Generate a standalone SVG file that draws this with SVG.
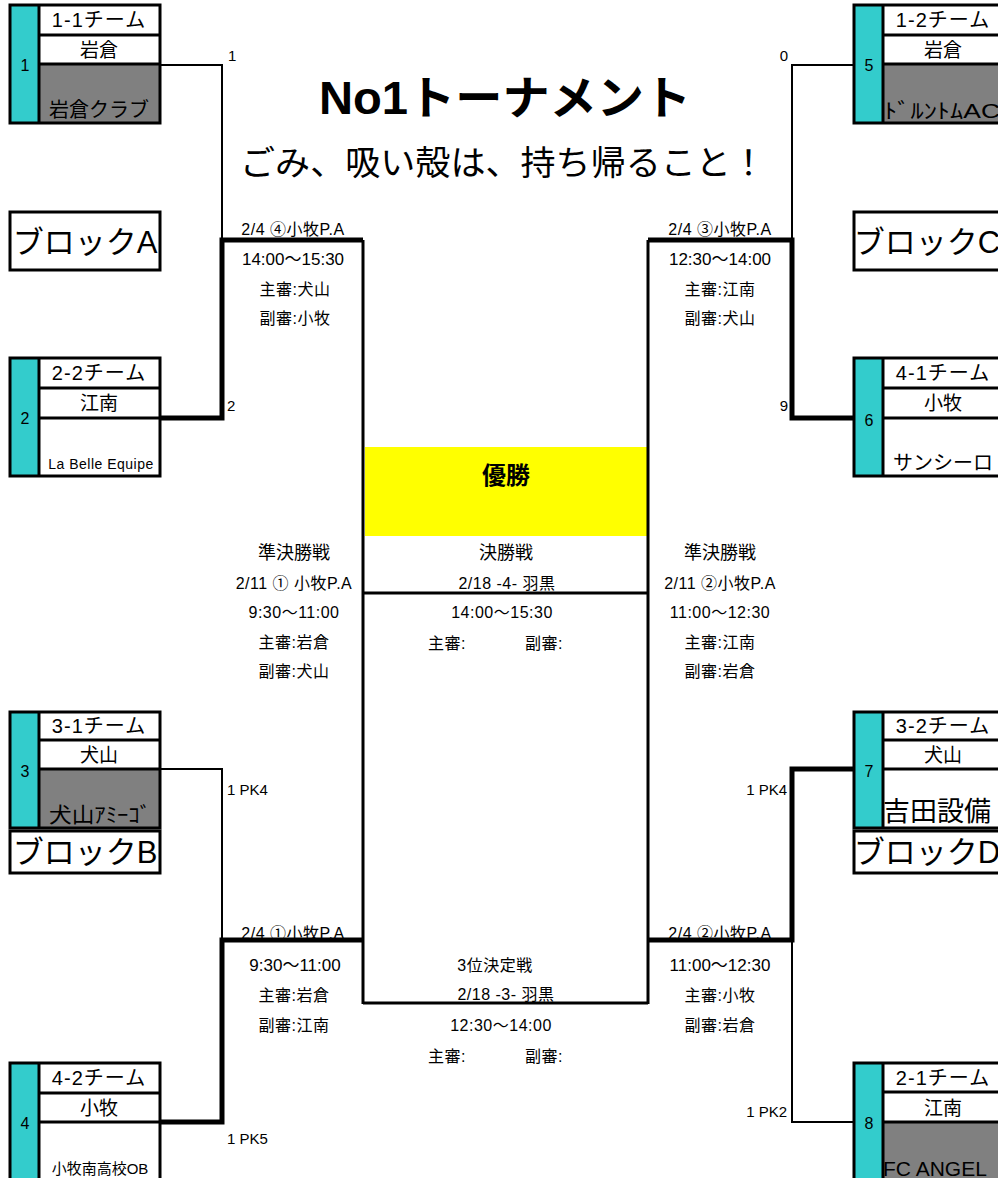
<svg xmlns="http://www.w3.org/2000/svg" width="998" height="1178" viewBox="0 0 998 1178">
<style>
text{font-family:"Liberation Sans","Noto Sans CJK JP",sans-serif;fill:#000;text-anchor:middle;dominant-baseline:central}
.box{fill:none;stroke:#000;stroke-width:3}
.cy{fill:#33cccc}
.gr{fill:#808080}
.ln{stroke:#000;stroke-width:3}
.thin{fill:none;stroke:#000;stroke-width:2}
.thick{fill:none;stroke:#000;stroke-width:5}
.mid{fill:none;stroke:#000;stroke-width:3}
.t1{font-size:20px;letter-spacing:1px}
.t2{font-size:19px}
.num{font-size:16px}
.s{font-size:16px;letter-spacing:0.5px}
.m{font-size:17px}
.h{font-size:18px}
.sc{font-size:15px;text-anchor:start}
.scr{font-size:15px;text-anchor:end}
.blk{font-size:31px}
.st{text-anchor:start}
</style>
<rect width="998" height="1178" fill="#fff"/>

<g id="title">
<text x="505" y="98" font-size="46" font-weight="bold" textLength="372" lengthAdjust="spacingAndGlyphs">No1トーナメント</text>
<text x="503" y="163" font-size="34" textLength="526" lengthAdjust="spacingAndGlyphs">ごみ、吸い殻は、持ち帰ること！</text>
</g>

<g id="team1">
<rect x="10" y="5" width="29" height="118" class="cy"/>
<rect x="39" y="64" width="121" height="59" class="gr"/>
<rect x="10" y="5" width="150" height="118" class="box"/>
<line x1="39" y1="5" x2="39" y2="123" class="ln"/>
<line x1="39" y1="35" x2="160" y2="35" class="ln"/>
<line x1="39" y1="64" x2="160" y2="64" class="ln"/>
<text x="25" y="65" class="num">1</text>
<text x="99" y="20" class="t1">1-1チーム</text>
<text x="99" y="50" class="t2">岩倉</text>
<text x="99" y="110" font-size="20">岩倉クラブ</text>
</g>

<g id="team2">
<rect x="10" y="358" width="29" height="118" class="cy"/>
<rect x="10" y="358" width="150" height="118" class="box"/>
<line x1="39" y1="358" x2="39" y2="476" class="ln"/>
<line x1="39" y1="388" x2="160" y2="388" class="ln"/>
<line x1="39" y1="418" x2="160" y2="418" class="ln"/>
<text x="25" y="418" class="num">2</text>
<text x="99" y="373" class="t1">2-2チーム</text>
<text x="99" y="403" class="t2">江南</text>
<text x="101" y="464" font-size="14" letter-spacing="0.5">La Belle Equipe</text>
</g>

<g id="team3">
<rect x="10" y="712" width="29" height="116" class="cy"/>
<rect x="39" y="769" width="121" height="59" class="gr"/>
<rect x="10" y="712" width="150" height="116" class="box"/>
<line x1="39" y1="712" x2="39" y2="828" class="ln"/>
<line x1="39" y1="740" x2="160" y2="740" class="ln"/>
<line x1="39" y1="769" x2="160" y2="769" class="ln"/>
<text x="25" y="771" class="num">3</text>
<text x="99" y="726" class="t1">3-1チーム</text>
<text x="99" y="755" class="t2">犬山</text>
<text x="100" y="814" font-size="21" textLength="102" lengthAdjust="spacingAndGlyphs">犬山ｱﾐｰｺﾞ</text>
</g>

<g id="team4">
<rect x="10" y="1063" width="29" height="118" class="cy"/>
<rect x="10" y="1063" width="150" height="118" class="box"/>
<line x1="39" y1="1063" x2="39" y2="1181" class="ln"/>
<line x1="39" y1="1093" x2="160" y2="1093" class="ln"/>
<line x1="39" y1="1122" x2="160" y2="1122" class="ln"/>
<text x="25" y="1123" class="num">4</text>
<text x="99" y="1078" class="t1">4-2チーム</text>
<text x="99" y="1108" class="t2">小牧</text>
<text x="100" y="1168" font-size="15">小牧南高校OB</text>
</g>

<g id="team5">
<rect x="854" y="5" width="29" height="118" class="cy"/>
<rect x="883" y="64" width="121" height="59" class="gr"/>
<rect x="854" y="5" width="150" height="118" class="box"/>
<line x1="883" y1="5" x2="883" y2="123" class="ln"/>
<line x1="883" y1="35" x2="1004" y2="35" class="ln"/>
<line x1="883" y1="64" x2="1004" y2="64" class="ln"/>
<text x="869" y="65" class="num">5</text>
<text x="943" y="20" class="t1">1-2チーム</text>
<text x="943" y="50" class="t2">岩倉</text>
<text x="884" y="110" font-size="21" class="st" textLength="116" lengthAdjust="spacingAndGlyphs">ﾄﾞﾙﾝﾄﾑAC</text>
</g>

<g id="team6">
<rect x="854" y="358" width="29" height="118" class="cy"/>
<rect x="854" y="358" width="150" height="118" class="box"/>
<line x1="883" y1="358" x2="883" y2="476" class="ln"/>
<line x1="883" y1="388" x2="1004" y2="388" class="ln"/>
<line x1="883" y1="418" x2="1004" y2="418" class="ln"/>
<text x="869" y="420" class="num">6</text>
<text x="943" y="373" class="t1">4-1チーム</text>
<text x="943" y="403" class="t2">小牧</text>
<text x="893" y="463" font-size="20" class="st">サンシーロ</text>
</g>

<g id="team7">
<rect x="854" y="712" width="29" height="116" class="cy"/>
<rect x="854" y="712" width="150" height="116" class="box"/>
<line x1="883" y1="712" x2="883" y2="828" class="ln"/>
<line x1="883" y1="740" x2="1004" y2="740" class="ln"/>
<line x1="883" y1="769" x2="1004" y2="769" class="ln"/>
<text x="869" y="771" class="num">7</text>
<text x="943" y="726" class="t1">3-2チーム</text>
<text x="943" y="755" class="t2">犬山</text>
<text x="883" y="812" font-size="27" class="st">吉田設備</text>
</g>

<g id="team8">
<rect x="854" y="1063" width="29" height="118" class="cy"/>
<rect x="883" y="1122" width="121" height="59" class="gr"/>
<rect x="854" y="1063" width="150" height="118" class="box"/>
<line x1="883" y1="1063" x2="883" y2="1181" class="ln"/>
<line x1="883" y1="1092" x2="1004" y2="1092" class="ln"/>
<line x1="883" y1="1122" x2="1004" y2="1122" class="ln"/>
<text x="869" y="1123" class="num">8</text>
<text x="943" y="1078" class="t1">2-1チーム</text>
<text x="943" y="1108" class="t2">江南</text>
<text x="883" y="1168" font-size="21" class="st">FC ANGEL</text>
</g>

<g id="blockA">
<rect x="10" y="212" width="150" height="58" class="box"/>
<text x="85" y="242" class="blk">ブロックA</text>
</g>
<g id="blockB">
<rect x="10" y="831" width="150" height="42" class="box"/>
<text x="85" y="852" class="blk">ブロックB</text>
</g>
<g id="blockC">
<rect x="854" y="212" width="150" height="58" class="box"/>
<text x="927" y="242" class="blk">ブロックC</text>
</g>
<g id="blockD">
<rect x="854" y="831" width="150" height="42" class="box"/>
<text x="927" y="852" class="blk">ブロックD</text>
</g>

<g id="champion">
<rect x="365" y="447" width="282" height="89" fill="#ffff00"/>
<text x="506" y="475" font-size="24" font-weight="bold">優勝</text>
</g>

<g id="connectors">
<polyline points="160,65 222,65 222,240" class="thin"/>
<polyline points="160,418 222,418 222,240 363,240" class="thick"/>
<polyline points="160,769 222,769 222,940" class="thin"/>
<polyline points="160,1122 222,1122 222,940 363,940" class="thick"/>
<polyline points="853,65 792,65 792,240" class="thin"/>
<polyline points="853,418 792,418 792,240 648,240" class="thick"/>
<polyline points="853,769 792,769 792,940 648,940" class="thick"/>
<polyline points="853,1122 792,1122 792,940" class="thin"/>
<line x1="363" y1="240" x2="363" y2="1004" class="mid"/>
<line x1="648" y1="240" x2="648" y2="1004" class="mid"/>
<line x1="363" y1="593" x2="648" y2="593" class="mid"/>
<line x1="363" y1="1003" x2="648" y2="1003" class="mid"/>
</g>

<g id="scores">
<text x="228" y="55" class="sc">1</text>
<text x="227" y="405" class="sc">2</text>
<text x="788" y="55" class="scr">0</text>
<text x="788" y="405" class="scr">9</text>
<text x="227" y="789" class="sc">1 PK4</text>
<text x="227" y="1138" class="sc">1 PK5</text>
<text x="787" y="789" class="scr">1 PK4</text>
<text x="787" y="1111" class="scr">1 PK2</text>
</g>

<g id="match-top-left">
<text x="293" y="229" class="s">2/4 ④小牧P.A</text>
<text x="293" y="259" class="m">14:00〜15:30</text>
<text x="295" y="289" class="s">主審:犬山</text>
<text x="295" y="318" class="s">副審:小牧</text>
</g>
<g id="match-top-right">
<text x="720" y="229" class="s">2/4 ③小牧P.A</text>
<text x="720" y="259" class="m">12:30〜14:00</text>
<text x="720" y="289" class="s">主審:江南</text>
<text x="720" y="318" class="s">副審:犬山</text>
</g>
<g id="semi-left">
<text x="294" y="553" class="h">準決勝戦</text>
<text x="294" y="583" class="s">2/11 ① 小牧P.A</text>
<text x="294" y="612" class="s">9:30〜11:00</text>
<text x="294" y="642" class="s">主審:岩倉</text>
<text x="294" y="671" class="s">副審:犬山</text>
</g>
<g id="semi-right">
<text x="720" y="553" class="h">準決勝戦</text>
<text x="720" y="583" class="s">2/11 ②小牧P.A</text>
<text x="720" y="612" class="s">11:00〜12:30</text>
<text x="720" y="642" class="s">主審:江南</text>
<text x="720" y="671" class="s">副審:岩倉</text>
</g>
<g id="final">
<text x="506" y="553" class="h">決勝戦</text>
<text x="507" y="583" class="s">2/18 -4- 羽黒</text>
<text x="502" y="612" class="s">14:00〜15:30</text>
<text x="447" y="643" class="s">主審:</text>
<text x="544" y="643" class="s">副審:</text>
</g>
<g id="match-bottom-left">
<text x="293" y="933" class="s">2/4 ①小牧P.A</text>
<text x="295" y="965" class="m">9:30〜11:00</text>
<text x="294" y="995" class="s">主審:岩倉</text>
<text x="294" y="1025" class="s">副審:江南</text>
</g>
<g id="match-bottom-right">
<text x="720" y="933" class="s">2/4 ②小牧P.A</text>
<text x="720" y="965" class="m">11:00〜12:30</text>
<text x="720" y="995" class="s">主審:小牧</text>
<text x="720" y="1025" class="s">副審:岩倉</text>
</g>
<g id="third-place">
<text x="495" y="965" class="s">3位決定戦</text>
<text x="506" y="994" class="s">2/18 -3- 羽黒</text>
<text x="501" y="1025" class="s">12:30〜14:00</text>
<text x="447" y="1056" class="s">主審:</text>
<text x="544" y="1056" class="s">副審:</text>
</g>
</svg>
